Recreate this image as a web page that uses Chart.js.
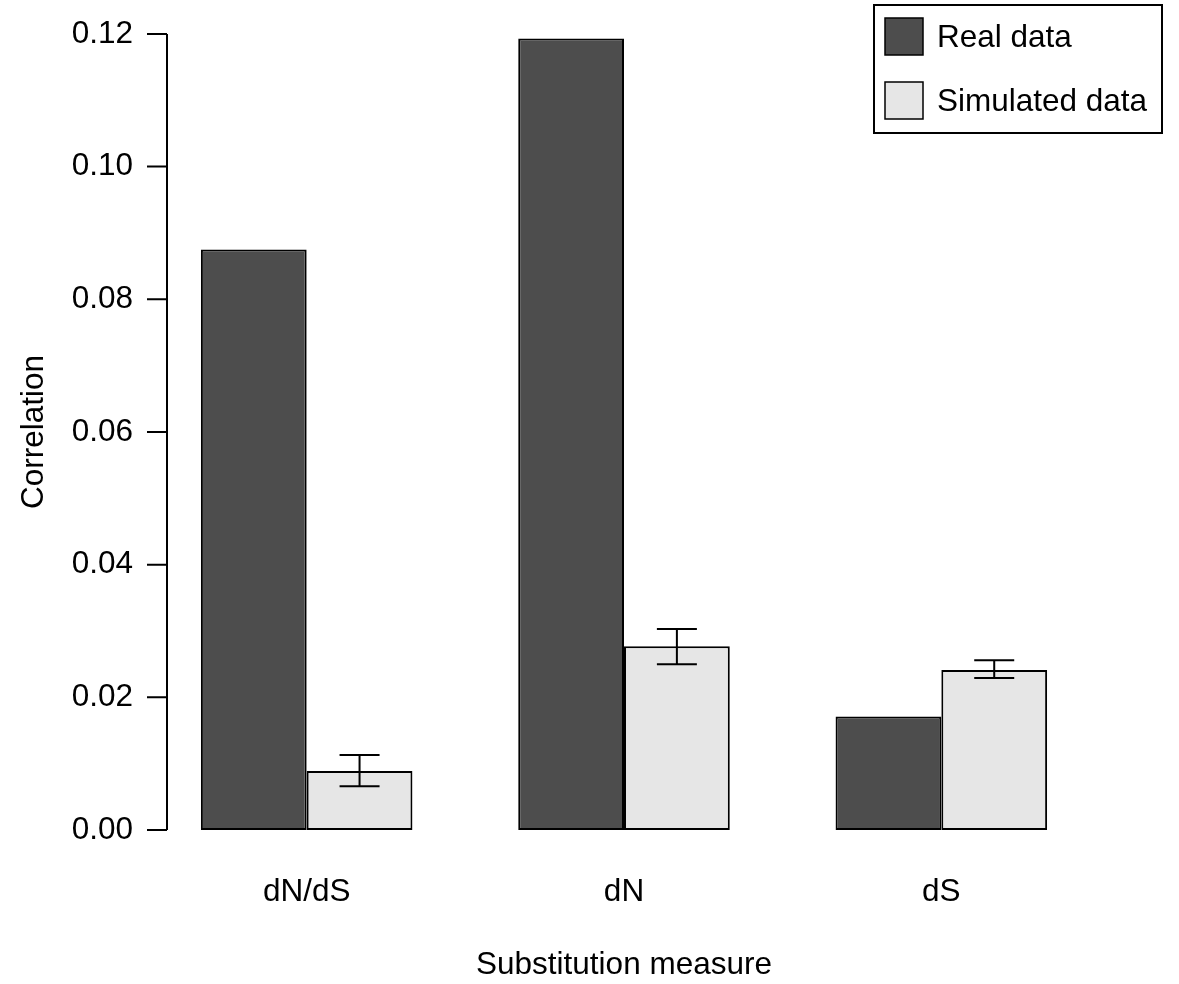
<!DOCTYPE html>
<html>
<head>
<meta charset="utf-8">
<script src="https://cdn.jsdelivr.net/npm/chart.js@4.4.1/dist/chart.umd.min.js"></script>
<style>
  html, body { margin: 0; padding: 0; background: #fff; }
  #wrap { width: 1179px; height: 984px; }
</style>
</head>
<body>
<div id="wrap"><canvas id="barChart" width="1179" height="984"></canvas></div>
<script>
// data
const categories = ['dN/dS', 'dN', 'dS'];
const seriesNames = ['Real data', 'Simulated data'];
const realValues = [0.0875, 0.1193, 0.0171];
const simValues = [0.0089, 0.0277, 0.0241];
const simLower = [0.0066, 0.0250, 0.0229];
const simUpper = [0.0113, 0.0303, 0.0256];
const yTicks = [0, 0.02, 0.04, 0.06, 0.08, 0.10, 0.12];
const barColors = ['#4d4d4d', '#e6e6e6'];

const fontSize = 31.5;
Chart.defaults.font.family = '"Liberation Sans", Arial, sans-serif';
Chart.defaults.font.size = fontSize;
Chart.defaults.color = '#000';

// R style y axis: line only spans the tick range, offset from the bars
const rAxis = {
  id: 'rAxis',
  afterDraw(chart) {
    const c = chart.ctx;
    const y = chart.scales.y;
    const x0 = chart.chartArea.left + 19;
    c.save();
    c.strokeStyle = '#000';
    c.lineWidth = 2;
    c.beginPath();
    c.moveTo(x0, y.getPixelForValue(yTicks[0]));
    c.lineTo(x0, y.getPixelForValue(yTicks[yTicks.length - 1]));
    yTicks.forEach(v => {
      const py = y.getPixelForValue(v);
      c.moveTo(x0, py);
      c.lineTo(x0 - 20, py);
    });
    c.stroke();
    c.restore();
  }
};

// error bars on the simulated series
const errorBars = {
  id: 'errorBars',
  afterDatasetsDraw(chart) {
    const c = chart.ctx;
    const y = chart.scales.y;
    const meta = chart.getDatasetMeta(1);
    c.save();
    c.strokeStyle = '#000';
    c.lineWidth = 2;
    meta.data.forEach((bar, i) => {
      const lo = y.getPixelForValue(simLower[i]);
      const hi = y.getPixelForValue(simUpper[i]);
      c.beginPath();
      c.moveTo(bar.x, lo);
      c.lineTo(bar.x, hi);
      c.moveTo(bar.x - 20, lo);
      c.lineTo(bar.x + 20, lo);
      c.moveTo(bar.x - 20, hi);
      c.lineTo(bar.x + 20, hi);
      c.stroke();
    });
    c.restore();
  }
};

// boxed legend in the top right corner
const boxLegend = {
  id: 'boxLegend',
  afterDraw(chart) {
    const c = chart.ctx;
    c.save();
    c.strokeStyle = '#000';
    c.lineWidth = 2;
    c.strokeRect(874, 5, 288, 128);
    c.font = fontSize + 'px "Liberation Sans", Arial, sans-serif';
    c.textBaseline = 'middle';
    chart.data.datasets.forEach((ds, i) => {
      const top = 18 + i * 64;
      c.fillStyle = ds.backgroundColor;
      c.fillRect(885, top, 38, 37);
      c.lineWidth = 1.5;
      c.strokeRect(885, top, 38, 37);
      c.fillStyle = '#000';
      c.fillText(ds.label, 937, top + 20);
    });
    c.restore();
  }
};

const ctx = document.getElementById('barChart').getContext('2d');
const chart = new Chart(ctx, {
  type: 'bar',
  data: {
    labels: categories,
    datasets: [{
      label: seriesNames[0],
      data: realValues,
      backgroundColor: barColors[0],
      borderColor: '#000',
      borderWidth: 2,
      borderSkipped: false,
      categoryPercentage: 2 / 3,
      barPercentage: 1
    }, {
      label: seriesNames[1],
      data: simValues,
      backgroundColor: barColors[1],
      borderColor: '#000',
      borderWidth: 2,
      borderSkipped: false,
      categoryPercentage: 2 / 3,
      barPercentage: 1
    }]
  },
  options: {
    responsive: false,
    animation: false,
    devicePixelRatio: 1,
    layout: { padding: { top: 32, right: 79, bottom: 0, left: 0 } },
    plugins: {
      legend: { display: false },
      tooltip: { enabled: false }
    },
    scales: {
      x: {
        grid: { display: false, drawTicks: false },
        border: { display: false },
        ticks: { padding: 43, maxRotation: 0, autoSkip: false },
        title: {
          display: true,
          text: 'Substitution measure',
          padding: { top: 0, bottom: 0 }
        },
        afterFit(scale) { scale.height = 154; }
      },
      y: {
        min: 0,
        max: 0.12,
        grid: { display: false, drawTicks: false },
        border: { display: false },
        ticks: {
          padding: 15,
          callback: v => v.toFixed(2)
        },
        afterBuildTicks(scale) {
          scale.ticks = yTicks.map(v => ({ value: v }));
        },
        title: {
          display: true,
          text: 'Correlation',
          padding: { top: 15, bottom: 0 }
        },
        afterFit(scale) { scale.width = 148; }
      }
    }
  },
  plugins: [rAxis, errorBars, boxLegend]
});
</script>
</body>
</html>
